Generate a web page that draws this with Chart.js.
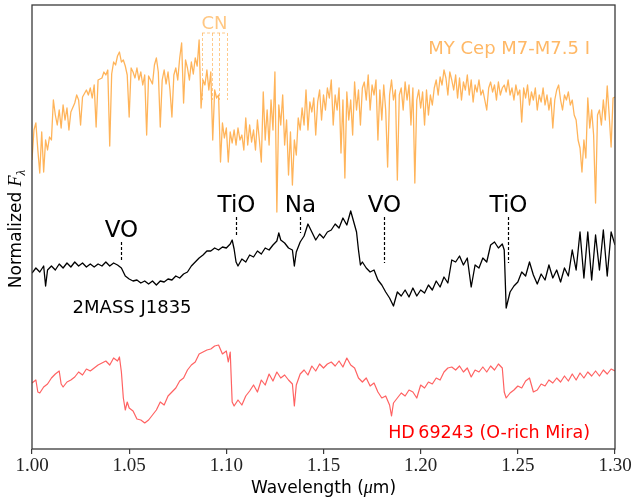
<!DOCTYPE html>
<html><head><meta charset="utf-8">
<script src="https://cdn.jsdelivr.net/npm/chart.js@4.4.1/dist/chart.umd.min.js"></script>
<style>html,body{margin:0;padding:0;background:#fff;}canvas{display:block;}</style>
</head><body>
<canvas id="c" width="634" height="499"></canvas>
<script>
// MY Cep (M7-M7.5 I) normalized flux + offset
const myCepWave = [
1.000,1.001,1.002,1.003,1.004,1.005,1.006,1.007,1.008,1.009,
1.010,1.011,1.012,1.013,1.014,1.015,1.016,1.017,1.018,1.019,
1.020,1.022,1.023,1.024,1.025,1.026,1.028,1.029,1.030,1.031,
1.032,1.033,1.034,1.036,1.037,1.038,1.039,1.040,1.041,1.042,
1.043,1.044,1.045,1.046,1.047,1.048,1.049,1.050,1.051,1.052,
1.053,1.054,1.055,1.056,1.057,1.058,1.059,1.060,1.062,1.063,
1.064,1.065,1.066,1.067,1.068,1.069,1.070,1.071,1.072,1.073,
1.074,1.075,1.076,1.077,1.078,1.079,1.080,1.081,1.082,1.083,
1.084,1.085,1.086,1.087,1.088,1.089,1.090,1.091,1.092,1.093,
1.094,1.095,1.096,1.097,1.098,1.099,1.100,1.101,1.102,1.103,
1.104,1.105,1.106,1.107,1.108,1.109,1.110,1.111,1.112,1.113,
1.114,1.115,1.116,1.117,1.118,1.119,1.120,1.121,1.122,1.123,
1.124,1.125,1.126,1.127,1.128,1.129,1.130,1.131,1.132,1.133,
1.134,1.135,1.136,1.137,1.138,1.139,1.140,1.141,1.142,1.143,
1.144,1.145,1.146,1.147,1.148,1.149,1.150,1.151,1.152,1.153,
1.154,1.155,1.156,1.157,1.158,1.159,1.160,1.161,1.162,1.163,
1.164,1.165,1.166,1.167,1.168,1.169,1.170,1.171,1.172,1.173,
1.174,1.175,1.176,1.177,1.178,1.179,1.180,1.181,1.182,1.183,
1.184,1.185,1.186,1.187,1.188,1.189,1.190,1.191,1.192,1.193,
1.194,1.195,1.196,1.197,1.198,1.199,1.200,1.201,1.202,1.203,
1.204,1.205,1.206,1.207,1.208,1.209,1.210,1.211,1.212,1.213,
1.214,1.215,1.216,1.217,1.218,1.219,1.220,1.221,1.222,1.223,
1.224,1.225,1.226,1.227,1.228,1.229,1.230,1.231,1.232,1.233,
1.234,1.235,1.236,1.237,1.238,1.239,1.240,1.241,1.242,1.243,
1.244,1.245,1.246,1.247,1.248,1.249,1.250,1.251,1.252,1.253,
1.254,1.255,1.256,1.257,1.258,1.259,1.260,1.261,1.262,1.263,
1.264,1.265,1.266,1.267,1.268,1.269,1.270,1.271,1.272,1.273,
1.274,1.275,1.276,1.277,1.278,1.279,1.280,1.281,1.282,1.283,
1.284,1.285,1.286,1.287,1.288,1.289,1.290,1.291,1.292,1.293,
1.294,1.295,1.296,1.297,1.298,1.299,1.300];
const myCepFlux = [
2.89,3.19,3.26,2.99,2.76,3.17,2.77,3.09,2.99,3.12,
3.09,3.49,3.34,3.24,3.39,3.21,3.44,3.29,3.41,3.19,
3.37,3.46,3.54,3.49,3.24,3.52,3.59,3.54,3.61,3.51,
3.64,3.22,3.69,3.71,3.77,3.74,3.79,3.03,3.75,3.87,
3.84,3.93,3.97,3.87,3.89,3.83,3.74,3.32,3.81,3.77,
3.71,3.81,3.69,3.77,3.64,3.74,3.14,3.73,3.65,3.84,
3.91,3.77,3.22,3.69,3.79,3.65,3.77,3.59,3.32,3.74,
3.81,3.69,3.91,4.06,3.46,3.89,3.81,3.69,3.87,3.75,
3.91,3.83,4.09,3.41,3.69,3.64,3.79,3.59,3.77,3.09,
3.59,3.51,3.54,2.87,3.26,3.11,3.21,2.87,3.17,3.06,
3.19,3.04,3.21,3.09,3.14,2.99,3.31,3.04,3.24,3.07,
3.19,2.99,3.29,3.09,2.87,3.57,3.09,3.39,3.04,3.49,
3.19,3.77,2.37,3.44,3.24,3.54,3.04,3.29,2.74,3.17,
2.64,3.09,2.94,3.31,3.19,3.41,3.24,3.59,3.19,3.47,
3.37,3.51,3.14,3.47,3.59,3.29,3.54,3.39,3.61,3.51,
3.69,3.24,3.54,3.39,3.61,2.96,3.49,2.71,3.57,3.29,
3.49,3.14,3.67,3.39,3.59,3.24,3.61,3.67,3.49,3.74,
3.39,3.64,3.54,3.69,3.09,3.59,3.29,3.64,3.39,2.82,
3.54,3.69,3.49,3.59,2.69,3.54,3.61,3.39,3.67,3.49,
3.64,3.24,3.61,2.66,3.49,3.59,3.41,3.57,3.24,3.59,
3.34,3.54,3.44,3.61,3.69,3.54,3.72,3.64,3.79,3.71,
3.54,3.77,3.69,3.59,3.74,3.51,3.71,3.49,3.67,3.59,
3.74,3.54,3.69,3.47,3.64,3.57,3.69,3.54,3.59,3.49,
3.39,3.61,3.67,3.57,3.64,3.49,3.67,3.54,3.61,3.64,
3.57,3.69,3.54,3.61,3.49,3.64,3.54,3.59,3.27,3.61,
3.51,3.64,3.44,3.57,3.49,3.61,3.39,3.54,3.47,3.61,
3.44,3.54,3.39,3.51,3.21,3.49,3.59,3.64,3.49,3.39,
3.54,3.49,3.57,3.44,3.49,3.34,3.29,3.09,3.01,2.77,
3.09,2.91,3.51,3.21,3.39,3.14,2.46,3.34,3.39,3.24,
3.49,3.29,3.63,3.34,3.02,3.51,3.52];

// 2MASS J1835 normalized flux + offset
const j1835Wave = [
1.000,1.002,1.004,1.006,1.007,1.008,1.010,1.012,1.014,1.016,
1.018,1.020,1.022,1.024,1.026,1.028,1.030,1.032,1.034,1.036,
1.038,1.040,1.042,1.044,1.046,1.048,1.050,1.052,1.054,1.056,
1.058,1.060,1.062,1.064,1.066,1.068,1.070,1.072,1.074,1.076,
1.078,1.080,1.082,1.084,1.086,1.088,1.090,1.092,1.094,1.096,
1.098,1.100,1.102,1.103,1.104,1.105,1.106,1.108,1.110,1.112,
1.114,1.116,1.118,1.120,1.122,1.124,1.126,1.127,1.128,1.130,
1.132,1.134,1.135,1.136,1.138,1.140,1.142,1.144,1.146,1.148,
1.150,1.152,1.154,1.156,1.158,1.160,1.162,1.164,1.165,1.166,
1.167,1.168,1.169,1.170,1.172,1.174,1.176,1.178,1.180,1.182,
1.184,1.186,1.188,1.190,1.192,1.194,1.196,1.198,1.200,1.202,
1.204,1.206,1.208,1.210,1.212,1.214,1.216,1.218,1.220,1.222,
1.224,1.226,1.228,1.230,1.232,1.234,1.236,1.238,1.240,1.242,
1.243,1.244,1.246,1.248,1.250,1.252,1.254,1.256,1.258,1.260,
1.262,1.264,1.266,1.268,1.270,1.272,1.274,1.276,1.278,1.280,
1.282,1.284,1.286,1.288,1.290,1.292,1.294,1.296,1.298,1.300];
const j1835Flux = [
1.76,1.81,1.77,1.83,1.63,1.79,1.83,1.79,1.85,1.81,
1.86,1.82,1.87,1.83,1.86,1.82,1.85,1.82,1.85,1.83,
1.87,1.83,1.86,1.84,1.81,1.73,1.70,1.68,1.69,1.66,
1.68,1.65,1.68,1.64,1.68,1.67,1.70,1.69,1.73,1.71,
1.75,1.77,1.83,1.87,1.91,1.94,1.98,1.98,2.01,1.99,
2.02,2.01,2.05,2.09,2.00,1.87,1.83,1.90,1.87,1.94,
1.92,1.98,1.95,2.01,1.99,2.04,2.08,2.16,2.09,2.06,
2.01,1.99,1.83,1.97,2.07,2.13,2.25,2.17,2.09,2.15,
2.11,2.17,2.19,2.25,2.21,2.31,2.24,2.38,2.31,2.24,
2.17,1.99,1.84,1.87,1.81,1.77,1.79,1.69,1.64,1.57,
1.51,1.43,1.57,1.53,1.59,1.52,1.61,1.53,1.59,1.56,
1.64,1.59,1.68,1.62,1.72,1.66,1.89,1.87,1.93,1.84,
1.91,1.62,1.84,1.81,1.91,1.87,2.04,2.07,2.01,2.05,
1.99,1.41,1.57,1.63,1.67,1.77,1.73,1.87,1.74,1.65,
1.75,1.69,1.84,1.71,1.79,1.67,1.81,1.73,1.99,1.79,
2.17,1.71,2.17,1.69,2.14,1.79,2.19,1.73,2.17,2.04];

// HD 69243 (O-rich Mira) normalized flux + offset
const hdWave = [
1.000,1.002,1.003,1.004,1.006,1.008,1.010,1.012,1.014,1.015,
1.016,1.018,1.020,1.022,1.024,1.026,1.028,1.030,1.032,1.034,
1.036,1.038,1.040,1.042,1.044,1.045,1.046,1.047,1.048,1.049,
1.050,1.052,1.054,1.056,1.058,1.060,1.062,1.064,1.066,1.068,
1.070,1.072,1.074,1.076,1.078,1.080,1.082,1.084,1.086,1.088,
1.090,1.092,1.094,1.096,1.098,1.100,1.101,1.102,1.103,1.104,
1.106,1.108,1.110,1.112,1.114,1.116,1.118,1.120,1.122,1.124,
1.126,1.128,1.130,1.132,1.134,1.135,1.136,1.138,1.140,1.142,
1.144,1.146,1.148,1.150,1.152,1.154,1.156,1.158,1.160,1.162,
1.164,1.166,1.168,1.170,1.172,1.174,1.176,1.178,1.180,1.182,
1.184,1.185,1.186,1.188,1.190,1.192,1.194,1.196,1.198,1.200,
1.202,1.204,1.206,1.208,1.210,1.212,1.214,1.216,1.218,1.220,
1.222,1.224,1.226,1.228,1.230,1.232,1.234,1.236,1.238,1.240,
1.242,1.243,1.244,1.246,1.248,1.250,1.252,1.254,1.256,1.258,
1.260,1.262,1.264,1.266,1.268,1.270,1.272,1.274,1.276,1.278,
1.280,1.282,1.284,1.286,1.288,1.290,1.292,1.294,1.296,1.298,
1.300];
const hdFlux = [
0.66,0.69,0.57,0.56,0.62,0.65,0.71,0.75,0.78,0.65,
0.62,0.67,0.69,0.72,0.77,0.74,0.80,0.78,0.81,0.84,
0.86,0.88,0.84,0.91,0.88,0.92,0.77,0.51,0.39,0.47,
0.41,0.38,0.30,0.29,0.26,0.29,0.34,0.39,0.47,0.44,
0.53,0.57,0.61,0.68,0.71,0.79,0.84,0.87,0.95,0.97,
0.99,1.00,1.03,1.04,0.95,0.98,0.87,0.97,0.47,0.43,
0.49,0.44,0.53,0.58,0.64,0.57,0.69,0.64,0.75,0.68,
0.77,0.71,0.74,0.69,0.65,0.43,0.64,0.75,0.79,0.74,
0.83,0.78,0.85,0.81,0.85,0.87,0.83,0.88,0.82,0.91,
0.84,0.81,0.71,0.67,0.71,0.63,0.66,0.57,0.51,0.53,
0.44,0.33,0.46,0.51,0.56,0.53,0.59,0.57,0.51,0.64,
0.61,0.67,0.65,0.71,0.69,0.77,0.81,0.82,0.79,0.83,
0.77,0.81,0.72,0.79,0.77,0.82,0.77,0.83,0.79,0.85,
0.81,0.57,0.51,0.56,0.59,0.63,0.61,0.68,0.71,0.57,
0.59,0.65,0.63,0.69,0.66,0.71,0.67,0.73,0.68,0.75,
0.69,0.76,0.71,0.77,0.73,0.78,0.73,0.79,0.75,0.80,
0.78];

// Feature marks (wavelength, text baseline, dash top, dash bottom) in data units
const featureLabels = ['VO', 'TiO', 'Na', 'VO', 'TiO'];
const featureWave   = [1.046, 1.105, 1.138, 1.181, 1.245];
const featureTextY  = [2.12, 2.37, 2.37, 2.37, 2.37];
const featureDashTop = [2.07, 2.32, 2.32, 2.32, 2.32];
const featureDashBot = [1.89, 2.12, 2.16, 1.86, 1.86];

// CN band bracket
const cnWaves = [1.0875, 1.0926, 1.0962, 1.1003];
const cnTop = 4.16, cnBottom = 3.49, cnTextY = 4.20;

// Series labels
const seriesNames = ['MY Cep M7-M7.5 I', '2MASS J1835', 'HD\u200969243 (O-rich Mira)'];
const seriesLabelWave = [1.2455, 1.0515, 1.2352];
const seriesLabelY = [3.95, 1.36, 0.11];

const xMin = 1.00, xMax = 1.30, xStep = 0.05;
const yMin = 0, yMax = 4.44;

const ORANGE = '#ffb45a';
const BLACK = '#000000';
const RED = '#ff6262';

function pts(w, f){ return w.map((v,i)=>({x:v, y:f[i]})); }

const annot = {
  id: 'annot',
  afterDatasetsDraw(chart){
    const {ctx, chartArea:a, scales:{x, y}} = chart;
    ctx.save();
    // frame
    ctx.strokeStyle = '#3a3a3a'; ctx.lineWidth = 1.3;
    ctx.strokeRect(a.left, a.top, a.right - a.left, a.bottom - a.top);
    // features
    ctx.textAlign = 'center'; ctx.textBaseline = 'alphabetic';
    ctx.font = '23px "DejaVu Sans"';
    for (let i = 0; i < featureLabels.length; i++){
      const px = Math.round(x.getPixelForValue(featureWave[i])) + 0.5;
      ctx.fillStyle = BLACK;
      ctx.fillText(featureLabels[i], px, y.getPixelForValue(featureTextY[i]));
      ctx.setLineDash([3,2]); ctx.strokeStyle = BLACK; ctx.lineWidth = 1.2;
      ctx.beginPath();
      ctx.moveTo(px, y.getPixelForValue(featureDashTop[i]));
      ctx.lineTo(px, y.getPixelForValue(featureDashBot[i]));
      ctx.stroke();
    }
    // CN bracket
    ctx.strokeStyle = 'rgba(255,180,90,0.7)'; ctx.lineWidth = 1; ctx.setLineDash([3,2]);
    const yt = y.getPixelForValue(cnTop), yb = y.getPixelForValue(cnBottom);
    ctx.beginPath();
    ctx.moveTo(x.getPixelForValue(cnWaves[0]), yt);
    ctx.lineTo(x.getPixelForValue(cnWaves[cnWaves.length-1]), yt);
    cnWaves.forEach(w => { const p = Math.round(x.getPixelForValue(w)) + 0.5; ctx.moveTo(p, yt); ctx.lineTo(p, yb); });
    ctx.stroke();
    ctx.setLineDash([]);
    ctx.fillStyle = 'rgba(255,180,90,0.75)'; ctx.font = '18px "DejaVu Sans"';
    ctx.fillText('CN', x.getPixelForValue((cnWaves[0] + cnWaves[cnWaves.length-1]) / 2), y.getPixelForValue(cnTextY));
    // series labels
    const cols = ['#ffb866', BLACK, '#ff0000'];
    const sizes = [18, 18, 17.5];
    for (let i = 0; i < seriesNames.length; i++){
      ctx.fillStyle = cols[i]; ctx.font = sizes[i] + 'px "DejaVu Sans"';
      ctx.fillText(seriesNames[i], x.getPixelForValue(seriesLabelWave[i]), y.getPixelForValue(seriesLabelY[i]));
    }
    // x title
    const cx = (a.left + a.right) / 2, ty = 493;
    const sans = '17px "DejaVu Sans"', ital = 'italic 18px "Liberation Serif"';
    const parts = [['Wavelength (', sans], ['\u03bc', ital], ['m)', sans]];
    let tw = 0; parts.forEach(p => { ctx.font = p[1]; tw += ctx.measureText(p[0]).width; });
    let sx = cx - tw / 2; ctx.fillStyle = '#000'; ctx.textAlign = 'left';
    parts.forEach(p => { ctx.font = p[1]; ctx.fillText(p[0], sx, ty); sx += ctx.measureText(p[0]).width; });
    // y title
    ctx.save();
    ctx.translate(21, (a.top + a.bottom) / 2 + 2);
    ctx.rotate(-Math.PI / 2);
    const yp = [['Normalized ', sans, 0], ['F', 'italic 18px "Liberation Serif"', 0], ['\u03bb', 'italic 13px "Liberation Serif"', 4]];
    tw = 0; yp.forEach(p => { ctx.font = p[1]; tw += ctx.measureText(p[0]).width; });
    sx = -tw / 2;
    yp.forEach(p => { ctx.font = p[1]; ctx.fillText(p[0], sx, p[2]); sx += ctx.measureText(p[0]).width; });
    ctx.restore();
    ctx.restore();
  }
};

new Chart(document.getElementById('c'), {
  type: 'line',
  data: {
    datasets: [
      {label: seriesNames[0], data: pts(myCepWave, myCepFlux), borderColor: ORANGE, borderWidth: 1.3},
      {label: seriesNames[1], data: pts(j1835Wave, j1835Flux), borderColor: BLACK, borderWidth: 1.3},
      {label: seriesNames[2], data: pts(hdWave, hdFlux), borderColor: RED, borderWidth: 1.2}
    ]
  },
  options: {
    responsive: false,
    animation: false,
    devicePixelRatio: 1,
    parsing: true,
    elements: {point: {radius: 0}, line: {tension: 0, borderJoinStyle: 'round'}},
    layout: {padding: {left: 32, right: 19, top: 5, bottom: 0}},
    plugins: {legend: {display: false}, tooltip: {enabled: false}},
    scales: {
      x: {
        type: 'linear', min: xMin, max: xMax,
        ticks: {stepSize: xStep, padding: 1, color: '#222',
          font: {family: 'Liberation Serif', size: 19},
          callback: v => Number(v).toFixed(2), maxRotation: 0, autoSkip: false},
        grid: {drawOnChartArea: false, drawTicks: true, tickLength: 5, color: '#3a3a3a', lineWidth: 1.2},
        border: {display: false},
        afterFit: s => { s.height = 50; }
      },
      y: {type: 'linear', min: yMin, max: yMax, display: false}
    }
  },
  plugins: [annot]
});
</script>
</body></html>
